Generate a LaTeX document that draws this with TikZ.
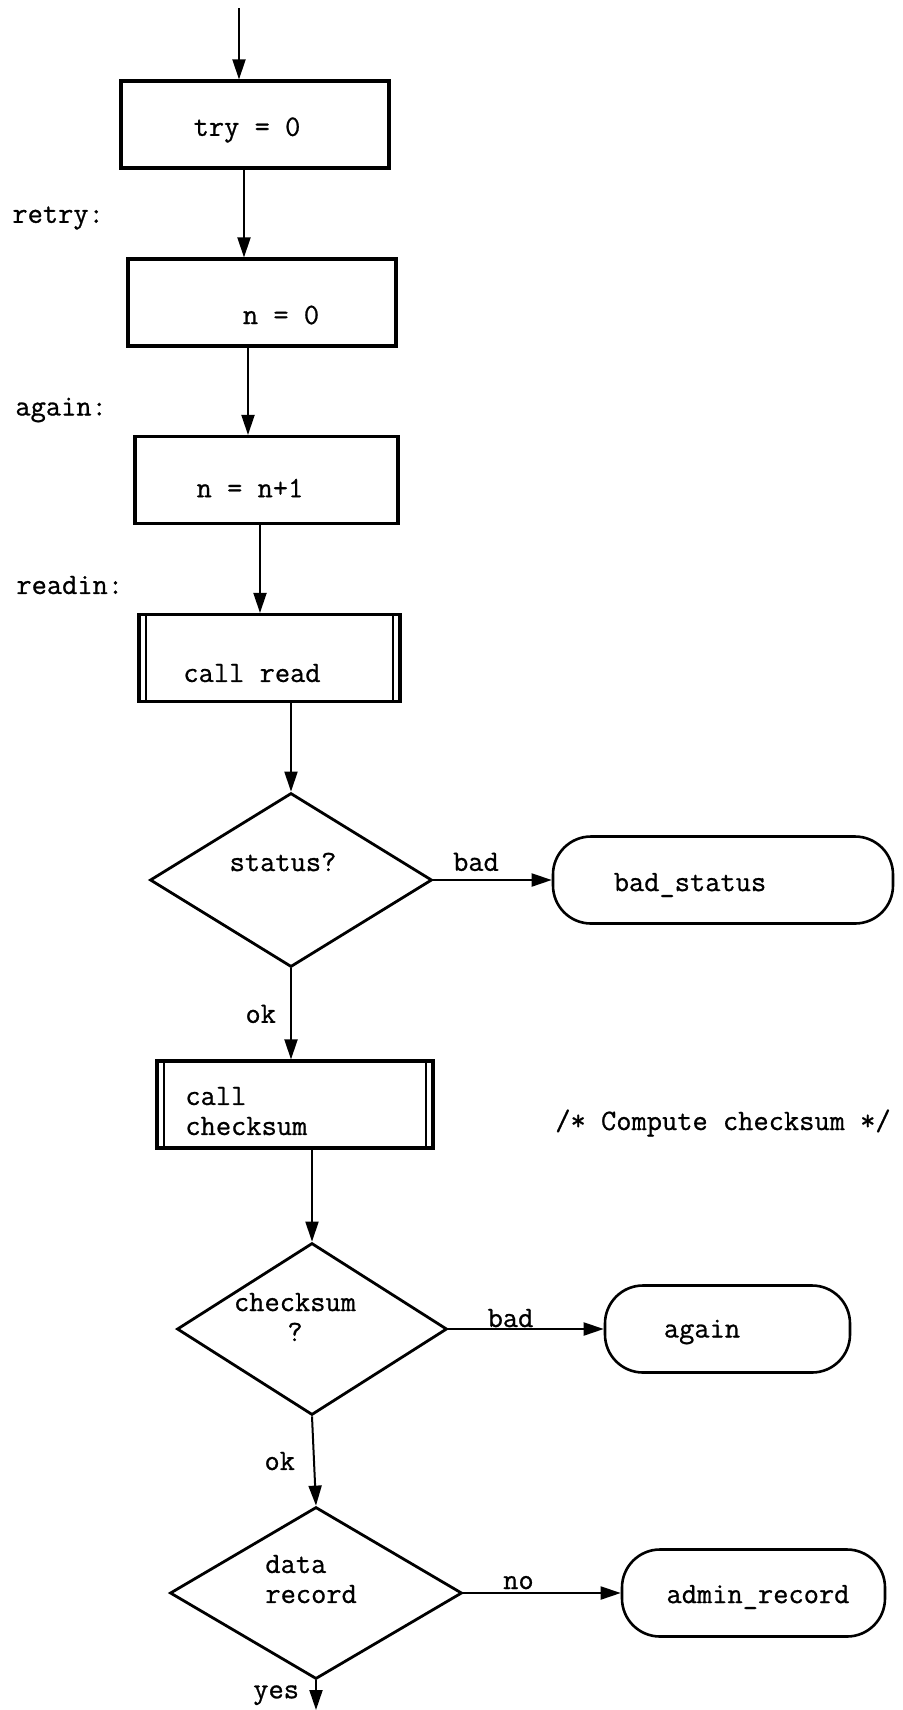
\documentclass[tikz,border=0pt]{standalone}
\usepackage{fontspec}
\newfontfamily\chartfont{Latin Modern Mono}[FakeBold=0.8]
\usetikzlibrary{arrows.meta,shapes.geometric}

\begin{document}
\begin{tikzpicture}[x=0.5pt,y=-0.5pt,
    every node/.style={font=\chartfont\fontsize{14.8}{15}\selectfont},
    txt/.style={inner sep=0pt},
    lbl/.style={inner sep=0pt},
    procbox/.style={draw,line width=1.6pt,minimum height=43.5pt,inner sep=0pt},
    callbox/.style={procbox,path picture={
        \draw[line width=1pt]([xshift=3.5pt]path picture bounding box.north west) -- ([xshift=3.5pt]path picture bounding box.south west);
        \draw[line width=1pt]([xshift=-3.5pt]path picture bounding box.north east) -- ([xshift=-3.5pt]path picture bounding box.south east);}},
    decision/.style={draw,shape=diamond,line width=1.4pt,inner sep=0pt},
    term/.style={draw,line width=1.3pt,rounded corners=19pt,minimum height=43.5pt,inner sep=0pt},
    flow/.style={-{Triangle[length=10pt,width=6.5pt]},line width=1pt}]

    \useasboundingbox (0,0) rectangle (903,1710);

    % main chart
    % shapes
    \node[procbox,minimum width=134pt](try) at (255,124.5) {};
    \node[procbox,minimum width=134pt](nzero) at (262,302.5) {};
    \node[procbox,minimum width=131.5pt](ninc) at (266.5,480) {};
    \node[callbox,minimum width=130.5pt](read) at (269.5,658) {};
    \node[decision,minimum width=141pt,minimum height=87pt](status) at (291,880) {};
    \node[term,minimum width=170pt](badst) at (723,880) {};
    \node[callbox,minimum width=138pt](callck) at (295,1104.5) {};
    \node[decision,minimum width=135pt,minimum height=86pt](chk) at (312,1329) {};
    \node[term,minimum width=122.5pt](again) at (727.5,1329) {};
    \node[decision,minimum width=146pt,minimum height=86pt](data) at (316,1593) {};
    \node[term,minimum width=131.5pt](admin) at (753.5,1593) {};

    % texts
    \node[txt](trytxt) at (247,130) {try = 0};
    \node[txt](nzerotxt) at (281,315) {n = 0};
    \node[txt](ninctxt) at (250,488) {n = n+1};
    \node[txt](readtxt) at (252,673) {call read};
    \node[txt](statustxt) at (283,862) {status?};
    \node[txt](badsttxt) at (690,885) {bad\_status};
    \node[txt,align=left,anchor=west](callcktxt) at (185,1111) {call\\checksum};
    \node[txt](comment) at (723,1123) {/* Compute checksum */};
    \node[txt,align=center](chktxt) at (295,1317) {checksum\\?};
    \node[txt](againtxt) at (702,1332) {again};
    \node[txt,align=left,anchor=west](datatxt) at (265,1579) {data\\record};
    \node[txt](admintxt) at (758,1597) {admin\_record};

    % entry labels
    \node[txt,anchor=west](retry) at (12,218) {retry:};
    \node[txt,anchor=west](againlbl) at (15,410) {again:};
    \node[txt,anchor=west](readin) at (16,585) {readin:};

    % paths
    \coordinate (start) at (239,8);
    \coordinate (stop) at (313,1710);
    \draw[flow](start) to (start |- try.north); % entry -> try
    \draw[flow]([xshift=-5.5pt]try.south) to ([xshift=-9pt]nzero.north); % try -> n = 0
    \draw[flow]([xshift=-7pt]nzero.south) to ([xshift=-9.25pt]ninc.north); % n = 0 -> n = n+1
    \draw[flow]([xshift=-3.25pt]ninc.south) to ([xshift=-4.75pt]read.north); % n = n+1 -> call read
    \draw[flow](read.south -| status.north) to (status.north); % call read -> status?
    \draw[flow](status.east) to node[lbl,above=4pt,pos=0.36](bad1){bad} (badst.west); % status? -> bad_status
    \draw[flow](status.south) to node[lbl,left=7pt](ok1){ok} (status.south |- callck.north); % status? -> call checksum
    \draw[flow](callck.south -| chk.north) to (chk.north); % call checksum -> checksum?
    \draw[flow](chk.east) to node[lbl,anchor=base,yshift=1pt,pos=0.4](bad2){bad} (again.west); % checksum? -> again
    \draw[flow](chk.south) to node[lbl,left=9pt](ok2){ok} (data.north); % checksum? -> data record
    \draw[flow](data.east) to node[lbl,anchor=base,yshift=2pt,pos=0.35](no){no} (admin.west); % data record -> admin_record
    \draw[flow](data.south) to node[lbl,left=8pt](yes){yes} (data.south |- stop); % data record -> exit

\end{tikzpicture}
\end{document}
